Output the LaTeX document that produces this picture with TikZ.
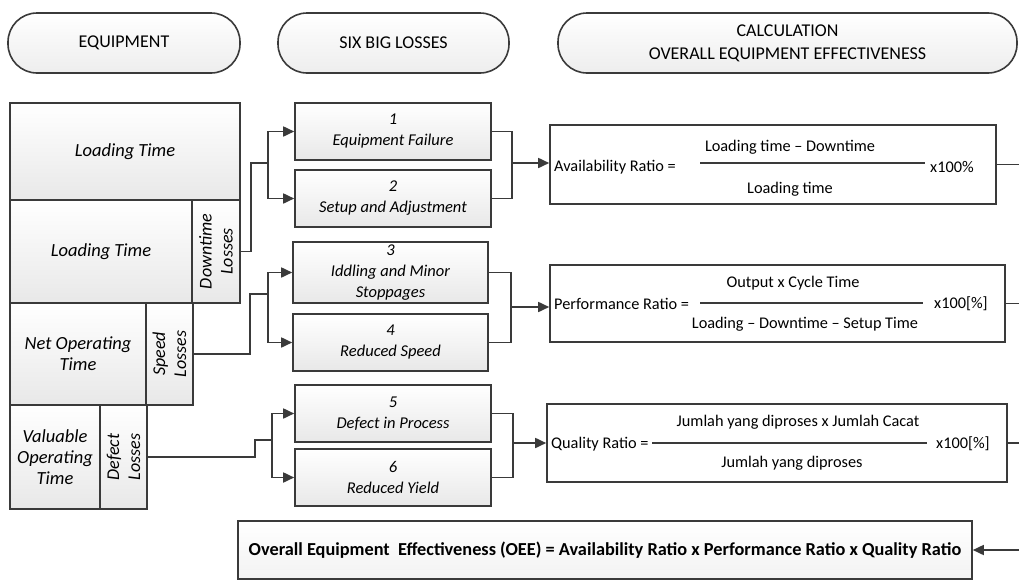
\documentclass[tikz,border=0pt]{standalone}
\usepackage{fontspec}
\setmainfont{Carlito}
\usetikzlibrary{arrows.meta}
\definecolor{linegray}{HTML}{3A3A3A}
\tikzset{
  pill/.style={draw=linegray, line width=1.6pt, rounded corners=29pt, top color=white, bottom color=black!7,
    inner sep=0pt, align=center, minimum height=60pt, font=\fontsize{18}{23}\selectfont},
  eqbox/.style={draw=linegray, line width=1.6pt, top color=white, bottom color=black!9, inner sep=0pt,
    align=center, font=\fontsize{18.5}{21}\selectfont\itshape},
  lossbox/.style={draw=linegray, line width=1.6pt, top color=white, bottom color=black!9, inner sep=0pt,
    align=center, font=\fontsize{16.5}{21}\selectfont\itshape},
  calcbox/.style={draw=linegray, line width=1.6pt, fill=white, inner sep=0pt},
  ftext/.style={inner sep=1pt, font=\fontsize{16.3}{19}\selectfont},
  link/.style={draw=linegray, line width=1.7pt},
  arr/.style={link, -{Triangle[length=11pt,width=10pt]}},
  fracbar/.style={draw=linegray, line width=2.6pt}
}
\begin{document}
\begin{tikzpicture}[x=1pt,y=-1pt]
    \useasboundingbox (0,0) rectangle (1019,581);

    % Column headers
    \node[pill, minimum width=232pt] (hEquip) at (124,43) {EQUIPMENT};
    \node[pill, minimum width=231pt] (hLoss) at (393.5,43) {SIX BIG LOSSES};
    \node[pill, minimum width=459pt] (hCalc) at (787.5,43) {CALCULATION\\OVERALL EQUIPMENT EFFECTIVENESS};

    % Equipment time blocks
    \node[eqbox, minimum width=230pt, minimum height=97pt] (load1) at (125,151.5) {Loading Time};
    \node[eqbox, minimum width=182pt, minimum height=103pt] (load2) at (101,251.5) {Loading Time};
    \node[eqbox, rotate=90, minimum width=103pt, minimum height=48pt, font=\fontsize{18}{21}\selectfont\itshape] (downL) at (216,251.5) {Downtime\\Losses};
    \node[eqbox, minimum width=136pt, minimum height=102pt] (netOp) at (78,354) {Net Operating\\Time};
    \node[eqbox, rotate=90, minimum width=102pt, minimum height=47pt, font=\fontsize{18}{21}\selectfont\itshape] (speedL) at (169.5,354) {Speed\\Losses};
    \node[eqbox, minimum width=90pt, minimum height=104pt] (valOp) at (55,457) {Valuable\\Operating\\Time};
    \node[eqbox, rotate=90, minimum width=104pt, minimum height=47pt, font=\fontsize{18}{21}\selectfont\itshape] (defL) at (123.5,457) {Defect\\Losses};

    % Six big losses
    \node[lossbox, minimum width=196pt, minimum height=57pt] (loss1) at (393,131.5) {1\\Equipment Failure};
    \node[lossbox, minimum width=196pt, minimum height=57pt] (loss2) at (393,198.5) {2\\Setup and Adjustment};
    \node[lossbox, minimum width=195pt, minimum height=61pt] (loss3) at (390.5,272.5) {3\\Iddling and Minor\\Stoppages};
    \node[lossbox, minimum width=195pt, minimum height=57pt] (loss4) at (390.5,342.5) {4\\Reduced Speed};
    \node[lossbox, minimum width=196pt, minimum height=57pt] (loss5) at (393,413.5) {5\\Defect in Process};
    \node[lossbox, minimum width=196pt, minimum height=57pt] (loss6) at (393,477.5) {6\\Reduced Yield};

    % Ratio boxes
    \node[calcbox, minimum width=446pt, minimum height=79pt] (availBox) at (773,164.5) {};
    \node[calcbox, minimum width=455pt, minimum height=77pt] (perfBox) at (777.5,303.5) {};
    \node[calcbox, minimum width=460pt, minimum height=78pt] (qualBox) at (777,443) {};
    \node[calcbox, minimum width=734pt, minimum height=58pt, top color=white, bottom color=black!5,
      font=\fontsize{18.3}{21}\selectfont\bfseries] (oeeBox) at (605,550)
      {Overall Equipment\ \ Effectiveness (OEE) = Availability Ratio x Performance Ratio x Quality Ratio};

    % Availability formula
    \node[ftext, anchor=west] (availLab) at (553,167) {Availability Ratio =};
    \draw[fracbar] (700,163) -- (925,163);
    \node[ftext] (availNum) at (790,147) {Loading time -- Downtime};
    \node[ftext] (availDen) at (790,189) {Loading time};
    \node[ftext, anchor=west] (availPct) at (929,167) {x100\%};

    % Performance formula
    \node[ftext, anchor=west] (perfLab) at (553,304) {Performance Ratio =};
    \draw[fracbar] (700,303) -- (923,303);
    \node[ftext] (perfNum) at (793,283) {Output x Cycle Time};
    \node[ftext] (perfDen) at (805,324) {Loading -- Downtime -- Setup Time};
    \node[ftext, anchor=west] (perfPct) at (933,304) {x100[\%]};

    % Quality formula
    \node[ftext, anchor=west] (qualLab) at (550,444) {Quality Ratio =};
    \draw[fracbar] (652,443) -- (927,443);
    \node[ftext] (qualNum) at (798,422) {Jumlah yang diproses x Jumlah Cacat};
    \node[ftext] (qualDen) at (792,463) {Jumlah yang diproses};
    \node[ftext, anchor=west] (qualPct) at (935,444) {x100[\%]};

    % Losses to six big losses
    \coordinate (splitA) at (268,163);
    \coordinate (splitB) at (268,294);
    \coordinate (splitC) at (272,440);
    \draw[link] (downL.south) -- ++(10,0) |- (splitA);
    \draw[arr] (splitA) |- (loss1.west);
    \draw[arr] (splitA) |- (loss2.west);
    \draw[link] (speedL.south) -- ++(56,0) |- (splitB);
    \draw[arr] (splitB) |- (loss3.west);
    \draw[arr] (splitB) |- (loss4.west);
    \draw[link] (defL.south) -- ++(107,0) |- (splitC);
    \draw[arr] (splitC) |- (loss5.west);
    \draw[arr] (splitC) |- (loss6.west);

    % Six big losses to ratios
    \coordinate (joinA) at (512,163);
    \coordinate (joinB) at (511,307);
    \coordinate (joinC) at (513,443);
    \draw[link] (loss1.east) -| (joinA);
    \draw[link] (loss2.east) -| (joinA);
    \draw[arr] (joinA) -- (joinA -| availBox.west);
    \draw[link] (loss3.east) -| (joinB);
    \draw[link] (loss4.east) -| (joinB);
    \draw[arr] (joinB) -- (joinB -| perfBox.west);
    \draw[link] (loss5.east) -| (joinC);
    \draw[link] (loss6.east) -| (joinC);
    \draw[arr] (joinC) -- (joinC -| qualBox.west);

    % Ratios to OEE
    \coordinate (rim) at (1019,0);
    \draw[link] (availBox.east) -- (availBox.east -| rim);
    \draw[link] (perfBox.east) -- (perfBox.east -| rim);
    \draw[link] (qualBox.east) -- (qualBox.east -| rim);
    \draw[arr] (oeeBox.east -| rim) -- (oeeBox.east);
\end{tikzpicture}
\end{document}
